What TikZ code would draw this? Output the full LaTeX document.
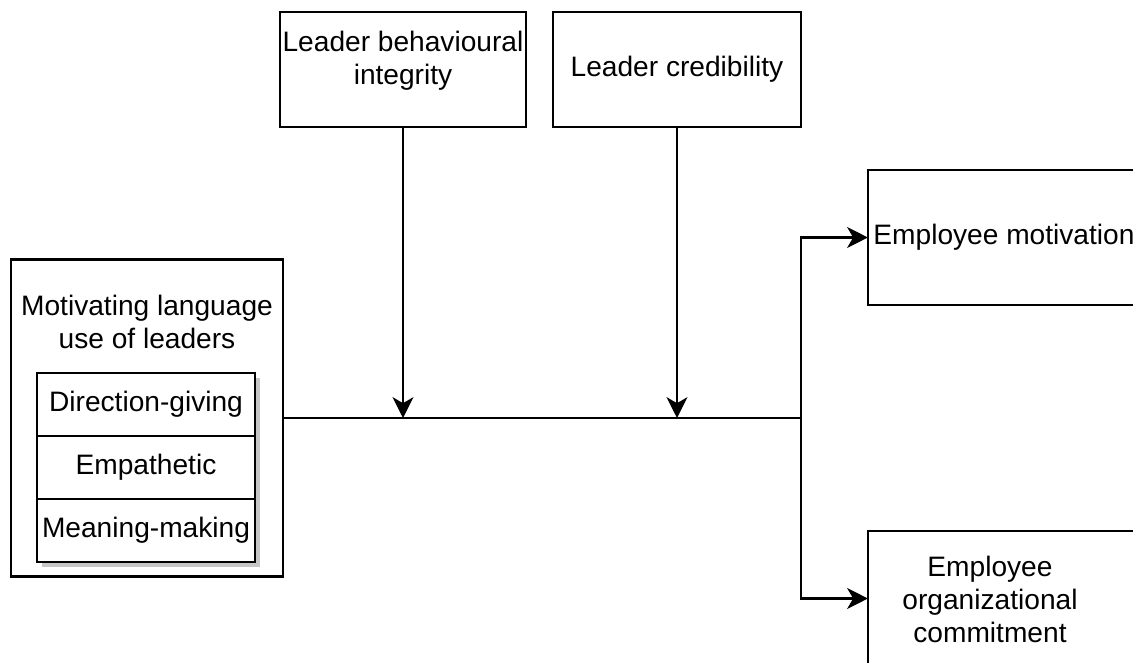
\documentclass[tikz,border=0pt]{standalone}
\usepackage{fontspec}
\setmainfont{Liberation Sans}
\usetikzlibrary{positioning,arrows.meta,backgrounds}

\begin{document}
\begin{tikzpicture}[x=0.025cm, y=-0.025cm,
    every node/.style={font=\fontsize{20pt}{23.5pt}\selectfont},
    box/.style={draw, line width=1.6pt, inner sep=0pt, outer sep=0pt, align=center},
    row/.style={draw, line width=1.3pt, fill=white, minimum width=5.45cm,
      minimum height=1.575cm, inner sep=0pt, outer sep=0pt},
    flow/.style={line width=1.6pt, -{Stealth[length=0.52cm, width=0.52cm, inset=0.15cm]}},
    link/.style={line width=1.6pt}]
  \path[use as bounding box] (0,0) rectangle (1133,663);
  \clip (0,0) rectangle (1133,663);
  \node[box, minimum width=6.15cm, minimum height=2.875cm] (integrity) at (403,69.5) {};
  \node[align=center] (integritytext) at (403,61) {Leader behavioural\\integrity};
  \node[box, minimum width=6.2cm, minimum height=2.875cm] (credibility) at (677,69.5) {Leader credibility};
  \node[box, minimum width=6.8cm, minimum height=3.375cm] (motivation) at (1004,237.5) {Employee motivation};
  \node[box, minimum width=6.8cm, minimum height=3.375cm] (commitment) at (1004,598.5) {};
  \node[align=center] (commitmenttext) at (990,599) {Employee\\organizational\\commitment};
  \node[box, minimum width=6.8cm, minimum height=7.925cm] (language) at (147,418) {};
  \node[align=center] (languagetext) at (147,322) {Motivating language\\use of leaders};
  \node[row] (direction) at (146,404.5) {Direction-giving};
  \node[row, below=0pt of direction] (empathetic) {Empathetic};
  \node[row, below=0pt of empathetic] (meaning) {Meaning-making};
  \begin{scope}[on background layer]
    \fill[gray!45] ([shift={(5,5)}]direction.north west) rectangle ([shift={(5,5)}]meaning.south east);
  \end{scope}
  \coordinate (split) at (801,418);
  \draw[link] (language) -- (split);
  \draw[flow] (integrity) -- (integrity |- split);
  \draw[flow] (credibility) -- (credibility |- split);
  \draw[flow] (split) |- (motivation);
  \draw[flow] (split) |- (commitment);
\end{tikzpicture}
\end{document}
